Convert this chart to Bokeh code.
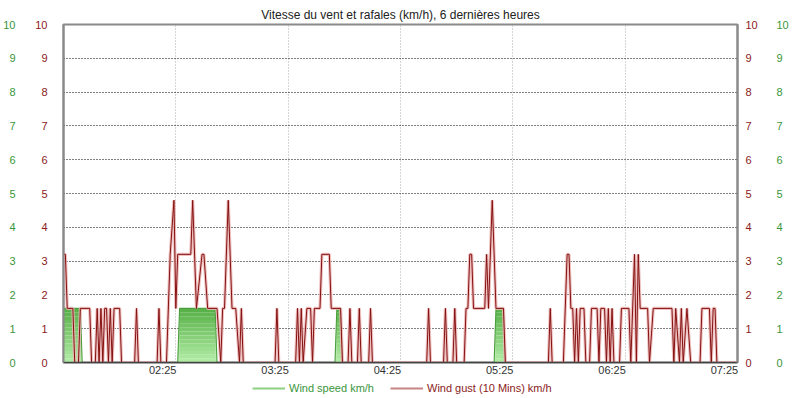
import numpy as np
from bokeh.plotting import figure
from bokeh.layouts import column
from bokeh.models import Range1d, LinearAxis, FixedTicker, Grid, Legend, LegendItem
from bokeh.embed import file_html
from bokeh.resources import INLINE

# ---------------- data ----------------
title_text = "Vitesse du vent et rafales (km/h), 6 dernières heures"
# time axis: minutes after 01:25
hour_ticks_min = [60, 120, 180, 240, 300, 360]
hour_labels = ["02:25", "03:25", "04:25", "05:25", "06:25", "07:25"]
y_ticks = [0, 1, 2, 3, 4, 5, 6, 7, 8, 9, 10]
legend_labels = ["Wind speed km/h", "Wind gust (10 Mins) km/h"]

gust_min = [0, 1, 2, 5, 6, 8, 9, 14, 15, 17, 18, 19, 20, 21, 22, 23, 24, 25, 26, 27,
            30, 31, 38, 39, 40, 50, 51, 52, 55, 57, 59, 60, 61, 68, 69, 71, 74, 75, 77, 82,
            84, 85, 86, 88, 90, 92, 94, 95, 96, 113, 114, 115, 124, 125, 126, 127, 128, 130, 132, 133,
            134, 137, 138, 142, 143, 148, 149, 152, 153, 154, 157, 158, 159, 163, 164, 165, 194, 195, 196, 203,
            204, 205, 208, 209, 210, 214, 215, 216, 217, 218, 219, 225, 226, 227, 229, 231, 235, 236, 259, 260,
            261, 267, 269, 270, 271, 272, 273, 274, 275, 276, 278, 279, 281, 282, 285, 286, 287, 289, 290, 291,
            292, 293, 294, 297, 298, 302, 303, 305, 306, 307, 308, 312, 313, 315, 325, 326, 327, 329, 330, 331,
            333, 335, 340, 341, 345, 346, 347, 348, 349, 360]
gust_kmh = [3.2, 3.2, 1.6, 1.6, 0, 0, 1.6, 1.6, 0, 0, 1.6, 0, 1.6, 0, 1.6, 1.6, 0, 1.6, 0, 1.6,
            1.6, 0, 0, 1.6, 0, 0, 1.6, 0, 0, 3.2, 4.8, 1.6, 3.2, 3.2, 4.8, 1.6, 3.2, 3.2, 1.6, 1.6,
            0, 1.6, 1.6, 4.8, 1.6, 1.6, 0, 1.6, 0, 0, 1.6, 0, 0, 1.6, 0, 1.6, 0, 1.6, 1.6, 0,
            1.6, 1.6, 3.2, 3.2, 1.6, 1.6, 0, 0, 1.6, 0, 0, 1.6, 0, 0, 1.6, 0, 0, 1.6, 0, 0,
            1.6, 0, 0, 1.6, 0, 0, 1.6, 1.6, 3.2, 3.2, 1.6, 1.6, 3.2, 1.6, 4.8, 1.6, 1.6, 0, 0, 1.6,
            0, 0, 3.2, 3.2, 1.6, 1.6, 0, 1.6, 0, 1.6, 1.6, 0, 0, 1.6, 1.6, 0, 1.6, 1.6, 0, 1.6,
            0, 1.6, 0, 0, 1.6, 1.6, 0, 3.2, 0, 3.2, 1.6, 1.6, 0, 1.6, 1.6, 0, 1.6, 0, 1.6, 0,
            1.6, 0, 0, 1.6, 1.6, 0, 1.6, 1.6, 0, 0]

speed_min = [0, 9, 10, 61, 62, 81, 82, 145, 146, 148, 149, 230, 231, 235, 236, 360]
speed_kmh = [1.6, 1.6, 0, 0, 1.6, 1.6, 0, 0, 1.6, 1.6, 0, 0, 1.6, 1.6, 0, 0]

# ---------------- styles ----------------
GREEN_TXT = "#3a963a"
RED_TXT = "#8b1a1a"
FONT = "Liberation Sans"
FW, FH = 674, 338

p = figure(frame_width=FW, frame_height=FH, output_backend="svg", toolbar_location=None,
           x_range=Range1d(0, 360), y_range=Range1d(0, 10),
           x_axis_location=None, y_axis_location=None,
           min_border_left=55, min_border_right=0,
           min_border_top=24, min_border_bottom=15)
for g in p.grid:
    g.visible = False
p.background_fill_color = "white"
p.border_fill_color = "white"
p.outline_line_color = "#8a8a8a"
p.outline_line_width = 2

p.title.text = title_text
p.title.align = "center"
p.title.text_font = FONT
p.title.text_font_size = "12px"
p.title.text_font_style = "normal"
p.title.text_color = "#222222"
p.title.standoff = 5

# grids
vg = Grid(dimension=0, ticker=FixedTicker(ticks=hour_ticks_min[:-1]),
          grid_line_color="#aaaaaa", grid_line_dash="1 2", grid_line_width=1)
hg = Grid(dimension=1, ticker=FixedTicker(ticks=y_ticks[1:-1]),
          grid_line_color="#000000", grid_line_dash="1 2", grid_line_width=1)
p.add_layout(vg)
p.add_layout(hg)

# x axis: labels end at their hour mark
shift = 7
xt = [t - shift for t in hour_ticks_min]
xaxis = LinearAxis(ticker=FixedTicker(ticks=xt),
                   major_label_overrides={t: lab for t, lab in zip(xt, hour_labels)},
                   major_tick_out=0, major_tick_in=0, minor_tick_out=0, minor_tick_in=0,
                   major_tick_line_color=None, minor_tick_line_color=None,
                   axis_line_color="#444444", axis_line_width=1.5,
                   major_label_standoff=1, major_label_text_font=FONT,
                   major_label_text_font_size="11px", major_label_text_color="#333333")
p.add_layout(xaxis, "below")


def yaxis(color, standoff, line_color):
    return LinearAxis(ticker=FixedTicker(ticks=y_ticks),
                      major_tick_out=0, major_tick_in=0, minor_tick_out=0, minor_tick_in=0,
                      major_tick_line_color=None, minor_tick_line_color=None,
                      axis_line_color=line_color, axis_line_width=2,
                      major_label_standoff=standoff, major_label_text_font=FONT,
                      major_label_text_font_size="11px", major_label_text_color=color)


p.add_layout(yaxis(RED_TXT, 16, "#8a8a8a"), "left")
p.add_layout(yaxis(GREEN_TXT, 17, None), "left")
p.add_layout(yaxis(RED_TXT, 8, "#8a8a8a"), "right")
p.add_layout(yaxis(GREEN_TXT, 16, None), "right")

# wind speed: gradient-filled area
sx = np.array(speed_min, dtype=float)
sy = np.array(speed_kmh, dtype=float)
N = 14
top = np.array([0x56, 0xb0, 0x46])
bot = np.array([0xb4, 0xee, 0xa8])
for i in range(N):
    f0, f1 = i / N, (i + 1) / N
    c = bot + (top - bot) * ((i + 0.5) / N)
    col = "#%02x%02x%02x" % tuple(int(v) for v in c)
    p.varea(x=sx, y1=sy * f0, y2=sy * f1, fill_color=col, fill_alpha=1.0)
p.line(sx, sy, line_color="#4a9e3c", line_width=1.1)

# wind gust line with soft halo
p.line(gust_min, gust_kmh, line_color="#ebb5b5", line_width=3.2, line_alpha=0.85)
p.line(gust_min, gust_kmh, line_color="#851010", line_width=1.0)

# legend strip below the chart (series drawn out of its visible range: only the
# legend samples show)
leg = figure(frame_width=FW, height=18, output_backend="svg", toolbar_location=None,
             x_range=Range1d(0, 360), y_range=Range1d(50, 51),
             x_axis_location=None, y_axis_location=None,
             min_border_left=63, min_border_right=0, min_border_top=0, min_border_bottom=0,
             outline_line_color=None)
for g in leg.grid:
    g.visible = False
r_sp = leg.line(speed_min, speed_kmh, line_color="#8fd083", line_width=2)
r_gu = leg.line(gust_min, gust_kmh, line_color="#c98585", line_width=2)

common = dict(padding=0, margin=0, spacing=0, border_line_color=None,
              background_fill_alpha=0, glyph_width=33, glyph_height=10,
              label_standoff=4, label_height=12, label_text_font=FONT,
              label_text_font_size="11px", orientation="horizontal")
leg1 = Legend(items=[LegendItem(label=legend_labels[0], renderers=[r_sp])],
              location=(189, 2), label_text_color=GREEN_TXT, **common)
leg2 = Legend(items=[LegendItem(label=legend_labels[1], renderers=[r_gu])],
              location=(327, 2), label_text_color=RED_TXT, **common)
leg.add_layout(leg1, "center")
leg.add_layout(leg2, "center")

layout = column(p, leg, spacing=0)
open("out.html", "w").write(file_html(layout, INLINE))
